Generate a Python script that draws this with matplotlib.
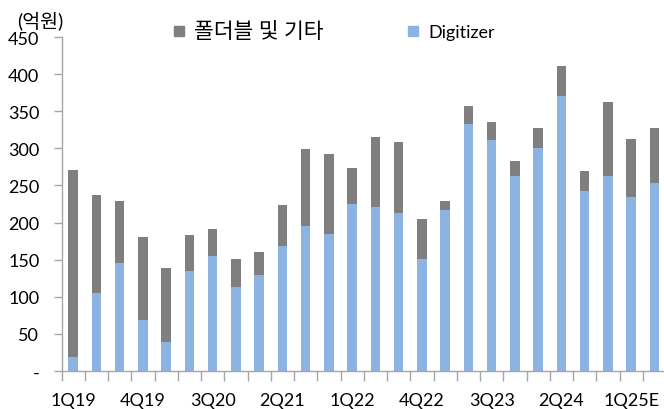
import matplotlib
matplotlib.use("Agg")
import matplotlib.pyplot as plt
from matplotlib.lines import Line2D

plt.rcParams['font.family'] = ['Lato', 'Noto Sans CJK KR']

quarters = ["1Q19", "2Q19", "3Q19", "4Q19", "1Q20", "2Q20", "3Q20", "4Q20",
            "1Q21", "2Q21", "3Q21", "4Q21", "1Q22", "2Q22", "3Q22", "4Q22",
            "1Q23", "2Q23", "3Q23", "4Q23", "1Q24", "2Q24", "3Q24", "4Q24",
            "1Q25E", "2Q25E"]
digitizer = [19, 105, 145, 69, 39, 135, 155, 113, 129, 169, 195, 185,
             225, 221, 213, 151, 217, 333, 311, 263, 301, 371, 243, 263,
             235, 253]
total = [271, 237, 229, 181, 139, 183, 191, 151, 161, 223, 299, 293,
         273, 315, 309, 205, 229, 357, 335, 283, 327, 411, 269, 363,
         313, 327]
foldable = [t - d for t, d in zip(total, digitizer)]

blue = "#8db3e2"
gray = "#7f7f7f"
axis_gray = "#a6a6a6"

fig = plt.figure(figsize=(6.64, 4.10), dpi=100)
ax = fig.add_axes([61.5 / 664, 38 / 410, 604.5 / 664, 334 / 410])

x = list(range(len(quarters)))
ax.bar(x, digitizer, width=0.4, color=blue)
ax.bar(x, foldable, width=0.4, bottom=digitizer, color=gray)

ax.set_xlim(-0.5, len(quarters) - 0.5)
ax.set_ylim(0, 450)

yt = list(range(0, 451, 50))
ax.set_yticks(yt, ["-"] + [str(v) for v in yt[1:]])
ax.tick_params(axis='y', direction='out', length=6, width=1, color=axis_gray,
               pad=10, labelsize=13)

# tick marks between categories, labels under every third bar
ax.set_xticks([i - 0.5 for i in range(len(quarters) + 1)], [])
ax.tick_params(axis='x', which='major', direction='out', length=7, width=1,
               color=axis_gray)
ax.set_xticks(x[::3], quarters[::3], minor=True)
ax.tick_params(axis='x', which='minor', length=0, pad=15, labelsize=13)

for s in ['top', 'right']:
    ax.spines[s].set_visible(False)
for s in ['left', 'bottom']:
    ax.spines[s].set_color(axis_gray)
    ax.spines[s].set_linewidth(1)

fig.text(17 / 664, 1 - 21 / 410, "(억원)", fontsize=14, va='center', ha='left')

handles = [Line2D([], [], marker='s', linestyle='none', markersize=7, color=gray),
           Line2D([], [], marker='s', linestyle='none', markersize=7, color=blue)]
leg = fig.legend(handles, ["폴더블 및 기타", "Digitizer"], ncol=2, frameon=False,
                 loc='center left', bbox_to_anchor=(172 / 664, 1 - 32 / 410),
                 fontsize=13, handlelength=0.8, handletextpad=0.4,
                 columnspacing=4.6, borderaxespad=0, borderpad=0)
leg.get_texts()[0].set_fontsize(15.5)

fig.savefig("out.png", dpi=100)
